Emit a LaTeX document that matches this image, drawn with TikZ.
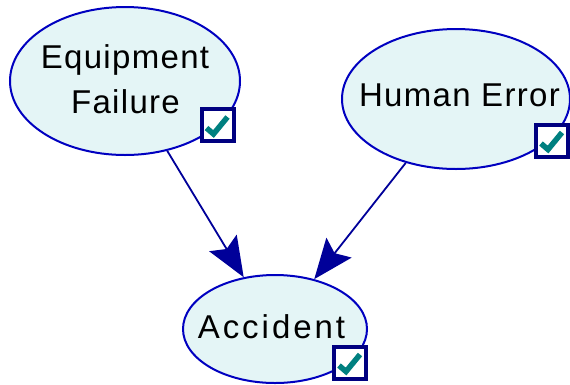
\documentclass[tikz,border=0pt]{standalone}
\usepackage{fontspec}
\setmainfont{Liberation Sans}
\newfontfamily\widesans[LetterSpace=4]{Liberation Sans}
\newfontfamily\widersans[LetterSpace=9]{Liberation Sans}
\usetikzlibrary{shapes.geometric,arrows.meta}
\definecolor{nodefill}{HTML}{E4F5F6}
\definecolor{nodeedge}{HTML}{0000C0}
\definecolor{linkcol}{HTML}{000099}
\definecolor{boxedge}{HTML}{000080}
\definecolor{tickcol}{HTML}{008080}
\tikzset{
  chance/.style={ellipse, draw=nodeedge, fill=nodefill, line width=2pt, inner sep=0pt},
  txt/.style={font=\widesans\fontsize{33}{45}\selectfont, inner sep=0pt, align=center},
  link/.style={draw=linkcol, line width=1.8pt,
    -{Stealth[length=40pt, width=32pt, inset=7pt]}},
  tickbox/.style={draw=boxedge, fill=white, line width=4pt, minimum size=32pt, inner sep=0pt},
  tick/.style={draw=tickcol, line width=5.5pt}
}
\begin{document}
\begin{tikzpicture}[x=1pt, y=-1pt]
  \useasboundingbox (0,0) rectangle (570,384);

  % belief nodes
  \node[chance, minimum width=230pt, minimum height=148pt] (ef) at (125,81) {};
  \node[chance, minimum width=228pt, minimum height=140pt] (he) at (456,99) {};
  \node[chance, minimum width=184pt, minimum height=108pt] (acc) at (275,329) {};

  % labels
  \node[txt, anchor=base] (ef-a) at (125,68) {Equipment};
  \node[txt, anchor=base] (ef-b) at (125.5,113) {Failure};
  \node[txt, anchor=base] (he-t) at (459.5,106) {Human Error};
  \node[txt, anchor=base, font=\widersans\fontsize{33}{45}\selectfont] (acc-t) at (271.5,338) {Accident};

  % observed-state boxes
  \node[tickbox] (ef-box) at (217.5,125) {};
  \node[tickbox] (he-box) at (552,140.5) {};
  \node[tickbox] (acc-box) at (350,362.5) {};
  \foreach \b in {ef-box, he-box, acc-box}
    \draw[tick] ([shift={(-11pt,-3pt)}]\b.center) -- ([shift={(-4pt,-9pt)}]\b.center) -- ([shift={(10pt,8pt)}]\b.center);

  % causal links
  \draw[link] (ef) -- (acc);
  \draw[link] (he) -- (acc);
\end{tikzpicture}
\end{document}
